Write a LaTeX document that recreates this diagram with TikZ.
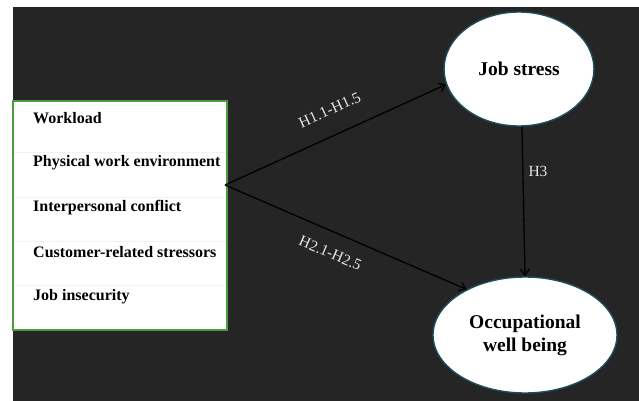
\documentclass[tikz,border=0pt]{standalone}
\usepackage{fontspec}
\setmainfont{Liberation Serif}
\usetikzlibrary{arrows.meta, positioning, shapes.geometric, calc}
\definecolor{bgdark}{HTML}{252525}
\definecolor{boxgreen}{HTML}{4E9A3E}
\definecolor{ringteal}{HTML}{1E4E5C}
\definecolor{rowline}{HTML}{F2F2F2}
\definecolor{labelgray}{HTML}{E6E6E6}

\begin{document}
\begin{tikzpicture}[
  x=1pt, y=-1pt,
  every node/.style={font=\fontsize{13}{15}\selectfont},
  itembox/.style={anchor=west, inner sep=0pt, font=\fontsize{16}{18}\selectfont\bfseries},
  varnode/.style={ellipse, draw=ringteal, line width=1.4pt, fill=white, align=center, inner sep=0pt, font=\fontsize{19.5}{23}\selectfont\bfseries},
  pathlabel/.style={text=labelgray, font=\fontsize{15.5}{17}\selectfont, inner sep=2pt},
  link/.style={-{Straight Barb[length=6pt, width=9pt]}, line width=1.3pt, black},
]
\useasboundingbox (0,0) rectangle (639,401);
\fill[white] (0,0) rectangle (639,401);
\fill[bgdark] (13,7) rectangle (639,401);

% stressor list
\node[draw=boxgreen, line width=1.6pt, fill=white, minimum width=214pt, minimum height=229pt, inner sep=0pt] (stressors) at (120,215.5) {};
\foreach \yy in {152,197,241,285}
  \draw[rowline, line width=0.8pt] (14,\yy) -- (226,\yy);
\node[itembox] (wl) at (33,118) {Workload};
\node[itembox] (pwe) at (33,163) {Physical work environment};
\node[itembox] (ipc) at (33,208) {Interpersonal conflict};
\node[itembox] (crs) at (33,252) {Customer-related stressors};
\node[itembox] (jis) at (33,297) {Job insecurity};

% outcome variables
\node[varnode, minimum width=150pt, minimum height=114pt] (js) at (519,69) {Job stress};
\node[varnode, minimum width=184pt, minimum height=116pt] (owb) at (525,335) {Occupational\\well being};

\coordinate (src) at (225,185);
\draw[link] (src) -- node[pathlabel, above=17pt, sloped, pos=0.52] {H1.1-H1.5} (js.192);
\draw[link] (src) -- node[pathlabel, below=13pt, sloped, pos=0.47] {H2.1-H2.5} (owb.142);
\draw[link] ($(js.south)+(3,0)$) -- node[pathlabel, right=3pt, pos=0.3] {H3} (owb.north);

\end{tikzpicture}
\end{document}
